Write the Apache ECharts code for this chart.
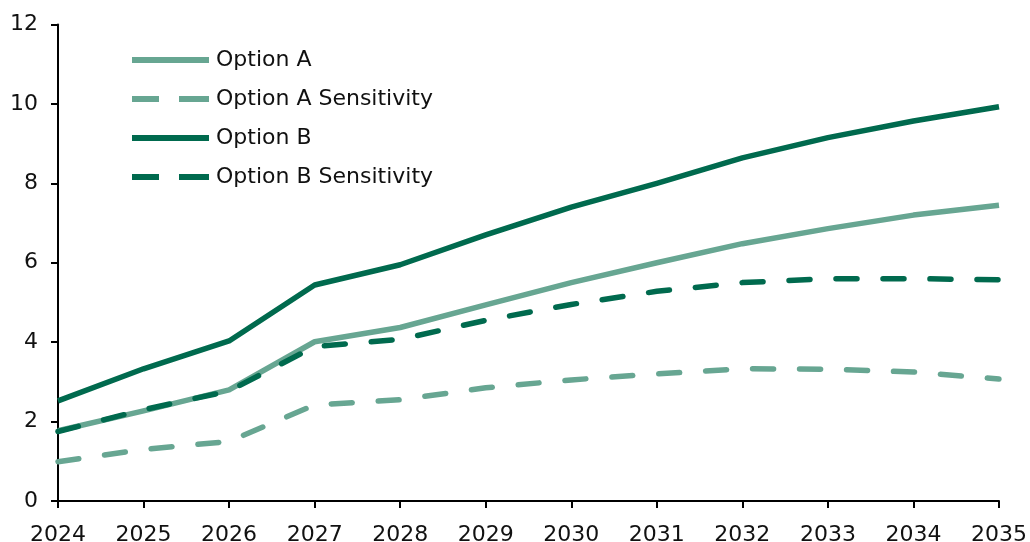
<!DOCTYPE html>
<html>
<head>
<meta charset="utf-8">
<script src="https://cdn.jsdelivr.net/npm/echarts@6/dist/echarts.min.js"></script>
<style>
html,body{margin:0;padding:0;background:#fff;}
#chart{width:1030px;height:542px;}
</style>
</head>
<body>
<div id="chart"></div>
<script>
const years = ['2024','2025','2026','2027','2028','2029','2030','2031','2032','2033','2034','2035'];
const optionA = [1.77, 2.27, 2.8, 4.01, 4.37, 4.94, 5.5, 6.0, 6.48, 6.86, 7.2, 7.45];
const optionASens = [0.99, 1.3, 1.5, 2.42, 2.55, 2.85, 3.05, 3.2, 3.33, 3.32, 3.25, 3.07];
const optionB = [2.52, 3.33, 4.03, 5.44, 5.95, 6.7, 7.4, 8.0, 8.64, 9.15, 9.57, 9.93];
const optionBSens = [1.75, 2.3, 2.77, 3.89, 4.07, 4.55, 4.95, 5.28, 5.5, 5.6, 5.6, 5.57];
const seriesNames = ['Option A', 'Option A Sensitivity', 'Option B', 'Option B Sensitivity'];
const yTicks = {min: 0, max: 12, interval: 2};

const lightGreen = '#67A692';
const darkGreen = '#006A4E';
const dash = [21, 26];
const solidIcon = 'path://M0,0H77V6H0Z';
const dashIcon = 'path://M0,0H27V6H0Z M47,0H77V6H47Z';
const font = 'DejaVu Sans';

const chart = echarts.init(document.getElementById('chart'), null, {renderer: 'canvas'});
function mk(name, data, color, dashed) {
  return {
    name: name, type: 'line', data: data, symbol: 'none', smooth: false,
    lineStyle: {color: color, width: 5.5, type: dashed ? dash : 'solid', cap: dashed ? 'round' : 'butt', join: 'round'},
    itemStyle: {color: color},
    emphasis: {disabled: true}
  };
}
chart.setOption({
  animation: false,
  backgroundColor: '#fff',
  textStyle: {fontFamily: font},
  grid: {left: 58, right: 31, top: 24.5, bottom: 41, containLabel: false, outerBoundsMode: 'none'},
  legend: {
    orient: 'vertical', left: 127, top: 44,
    itemWidth: 77, itemHeight: 6, itemGap: 17,
    textStyle: {fontSize: 22, color: '#111', fontFamily: font, padding: [0, 0, 0, 2]},
    data: [
      {name: seriesNames[0], icon: solidIcon},
      {name: seriesNames[1], icon: dashIcon},
      {name: seriesNames[2], icon: solidIcon},
      {name: seriesNames[3], icon: dashIcon}
    ]
  },
  xAxis: {
    type: 'category', data: years, boundaryGap: false,
    axisLine: {lineStyle: {color: '#000', width: 2}},
    axisTick: {show: true, length: 7, lineStyle: {color: '#000', width: 2}, alignWithLabel: true},
    axisLabel: {fontSize: 22, color: '#111', margin: 23, interval: 0, fontFamily: font},
    splitLine: {show: false}
  },
  yAxis: {
    type: 'value', min: yTicks.min, max: yTicks.max, interval: yTicks.interval,
    axisLine: {show: true, lineStyle: {color: '#000', width: 2}},
    axisTick: {show: true, length: 7, lineStyle: {color: '#000', width: 2}},
    axisLabel: {fontSize: 22, color: '#111', margin: 20, fontFamily: font},
    splitLine: {show: false}
  },
  series: [
    mk(seriesNames[0], optionA, lightGreen, false),
    mk(seriesNames[1], optionASens, lightGreen, true),
    mk(seriesNames[2], optionB, darkGreen, false),
    mk(seriesNames[3], optionBSens, darkGreen, true)
  ]
});
</script>
</body>
</html>
